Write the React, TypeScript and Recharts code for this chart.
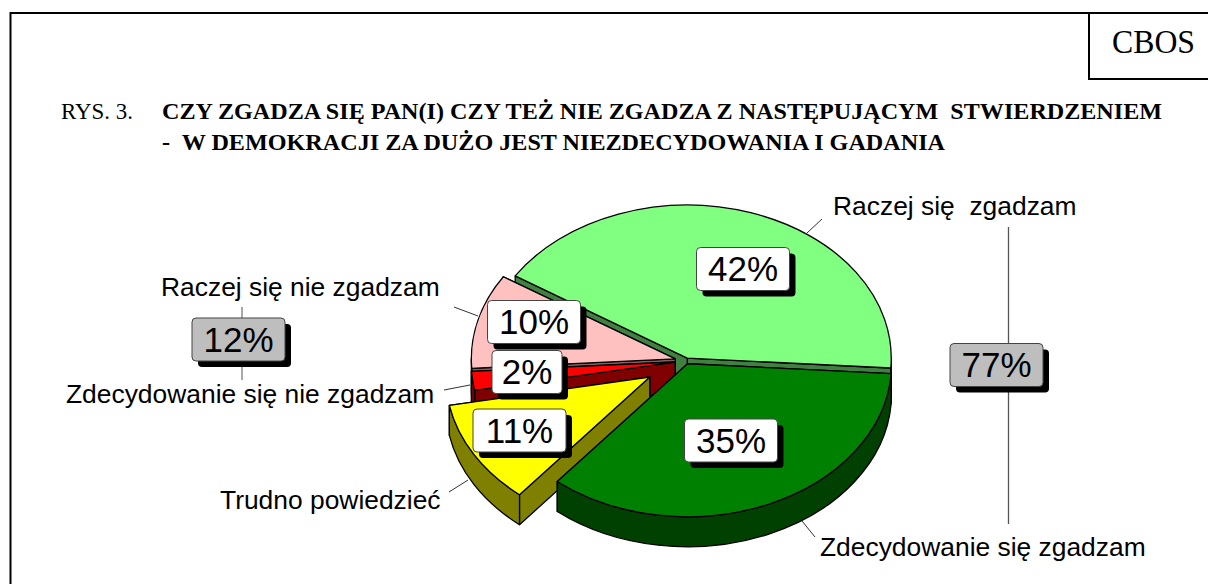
import { Pie, PieChart } from "recharts";

const categories = [
  "Raczej się  zgadzam",
  "Raczej się nie zgadzam",
  "Zdecydowanie się nie zgadzam",
  "Trudno powiedzieć",
  "Zdecydowanie się zgadzam",
];
const shares = [42, 10, 2, 11, 35];
const groupShares = [12, 77];

const chartData = categories.map((name, index) => ({
  name,
  value: shares[index],
}));

// slice look, in the same order as the data
const topColors = ["#80FF80", "#FFC0C0", "#FF0000", "#FFFF00", "#008000"];
const wallColors = ["#408040", "#806060", "#800000", "#808000", "#004000"];
const explode = [4, 11, 11, 42, 4];

const RX = 204;
const RY = 153;
const DEPTH = 30;

const SANS = "'Liberation Sans', Arial, sans-serif";
const SERIF = "'Liberation Serif', 'Times New Roman', serif";

// box centre, category text and leader line for every slice
const valueBoxes = [
  { x: 743, y: 269 },
  { x: 534, y: 322 },
  { x: 527, y: 372 },
  { x: 519.5, y: 430.5 },
  { x: 731, y: 440.5 },
];
const nameLabels = [
  { x: 833, y: 215, line: [822, 219, 807, 233] },
  { x: 161, y: 296, line: [454, 307, 478, 316] },
  { x: 66, y: 403, line: [444, 390, 470, 385] },
  { x: 220, y: 509, line: [449, 492, 468, 480] },
  { x: 820, y: 556, line: [815, 537, 802, 521] },
];

function ValueBox({ x, y, text, fill }: { x: number; y: number; text: string; fill: string }) {
  const w = text.length === 2 ? 70 : 93;
  const h = 43;
  return (
    <g>
      <rect x={x - w / 2 + 6} y={y - h / 2 + 6} width={w} height={h} rx={4} fill="#000" />
      <rect x={x - w / 2} y={y - h / 2} width={w} height={h} rx={4} fill={fill} stroke="#444" strokeWidth={1} />
      <text x={x} y={y + 12} textAnchor="middle" fontFamily={SANS} fontSize={35} fill="#000">
        {text}
      </text>
    </g>
  );
}

// Recharts only draws circles, so the slice is squashed into a tilted one here
function SliceShape(props: any) {
  const { cx, cy, startAngle, endAngle, midAngle, index } = props;
  const rad = Math.PI / 180;
  const e = explode[index];
  const ox = cx + e * Math.cos(midAngle * rad);
  const oy = cy - (e * RY * Math.sin(midAngle * rad)) / RX;
  const pt = (a: number, d = 0) => [ox + RX * Math.cos(a * rad), oy - RY * Math.sin(a * rad) + d];
  const large = Math.abs(endAngle - startAngle) > 180 ? 1 : 0;
  const sector = (d: number) => {
    const [x1, y1] = pt(startAngle, d);
    const [x2, y2] = pt(endAngle, d);
    return `M${ox},${oy + d}L${x1},${y1}A${RX},${RY} 0 ${large} 0 ${x2},${y2}Z`;
  };
  const face = (a: number) => {
    const [x, y] = pt(a);
    return `M${ox},${oy}L${x},${y}L${x},${y + DEPTH}L${ox},${oy + DEPTH}Z`;
  };
  // outer wall only shows on the front half of the ellipse
  const bands = [
    [-180, 0],
    [180, 360],
  ]
    .map(([lo, hi]) => [Math.max(lo, startAngle), Math.min(hi, endAngle)])
    .filter(([a, b]) => b > a)
    .map(([a, b]) => {
      const [x1, y1] = pt(a);
      const [x2, y2] = pt(b);
      return `M${x1},${y1}A${RX},${RY} 0 0 0 ${x2},${y2}L${x2},${y2 + DEPTH}A${RX},${RY} 0 0 1 ${x1},${y1 + DEPTH}Z`;
    });
  const line = { stroke: "#000", strokeWidth: 1.3, strokeLinejoin: "round" as const };
  return (
    <g>
      <path d={face(startAngle)} fill={wallColors[index]} {...line} />
      <path d={face(endAngle)} fill={wallColors[index]} {...line} />
      {bands.map((d) => (
        <path key={d} d={d} fill={wallColors[index]} {...line} />
      ))}
      <path d={sector(0)} fill={topColors[index]} {...line} />
    </g>
  );
}

function SliceLabel(props: any) {
  const { index, value, name } = props;
  const box = valueBoxes[index];
  const label = nameLabels[index];
  const [x1, y1, x2, y2] = label.line;
  return (
    <g>
      <line x1={x1} y1={y1} x2={x2} y2={y2} stroke="#333" strokeWidth={1} />
      <text x={label.x} y={label.y} fontFamily={SANS} fontSize={26.4} fill="#000" style={{ whiteSpace: "pre" }}>
        {name}
      </text>
      <ValueBox x={box.x} y={box.y} text={`${value}%`} fill="#fff" />
    </g>
  );
}

export default function App() {
  return (
    <div style={{ position: "absolute", left: 0, top: 0, width: 1208, height: 584, background: "#fff" }}>
      <PieChart width={1208} height={584} margin={{ top: 0, right: 0, bottom: 0, left: 0 }}>
        <path d="M10.5,584V13H1208M1089,13V79H1208" fill="none" stroke="#000" strokeWidth={2} />
        <text x={1112} y={53} fontFamily={SERIF} fontSize={34} textLength={83} lengthAdjust="spacingAndGlyphs">
          CBOS
        </text>
        <text x={61} y={119} fontFamily={SERIF} fontSize={24} textLength={72} lengthAdjust="spacingAndGlyphs">
          RYS. 3.
        </text>
        <text
          x={162}
          y={119}
          fontFamily={SERIF}
          fontSize={24}
          fontWeight="bold"
          textLength={1000}
          lengthAdjust="spacingAndGlyphs"
          style={{ whiteSpace: "pre" }}
        >
          CZY ZGADZA SIĘ PAN(I) CZY TEŻ NIE ZGADZA Z NASTĘPUJĄCYM  STWIERDZENIEM
        </text>
        <text
          x={162}
          y={150}
          fontFamily={SERIF}
          fontSize={24}
          fontWeight="bold"
          textLength={783}
          lengthAdjust="spacingAndGlyphs"
          style={{ whiteSpace: "pre" }}
        >
          -  W DEMOKRACJI ZA DUŻO JEST NIEZDECYDOWANIA I GADANIA
        </text>
        <line x1={242} y1={307} x2={242} y2={380} stroke="#555" strokeWidth={1} />
        <line x1={1008.5} y1={227} x2={1008.5} y2={524} stroke="#555" strokeWidth={1.3} />
        <Pie
          data={chartData}
          dataKey="value"
          nameKey="name"
          cx={686}
          cy={361}
          outerRadius={RX}
          startAngle={-3.7}
          endAngle={356.3}
          shape={SliceShape}
          label={SliceLabel}
          labelLine={false}
          isAnimationActive={false}
        />
        <ValueBox x={238.5} y={339.5} text={`${groupShares[0]}%`} fill="#BEBEBE" />
        <ValueBox x={996.5} y={365} text={`${groupShares[1]}%`} fill="#BEBEBE" />
      </PieChart>
    </div>
  );
}
